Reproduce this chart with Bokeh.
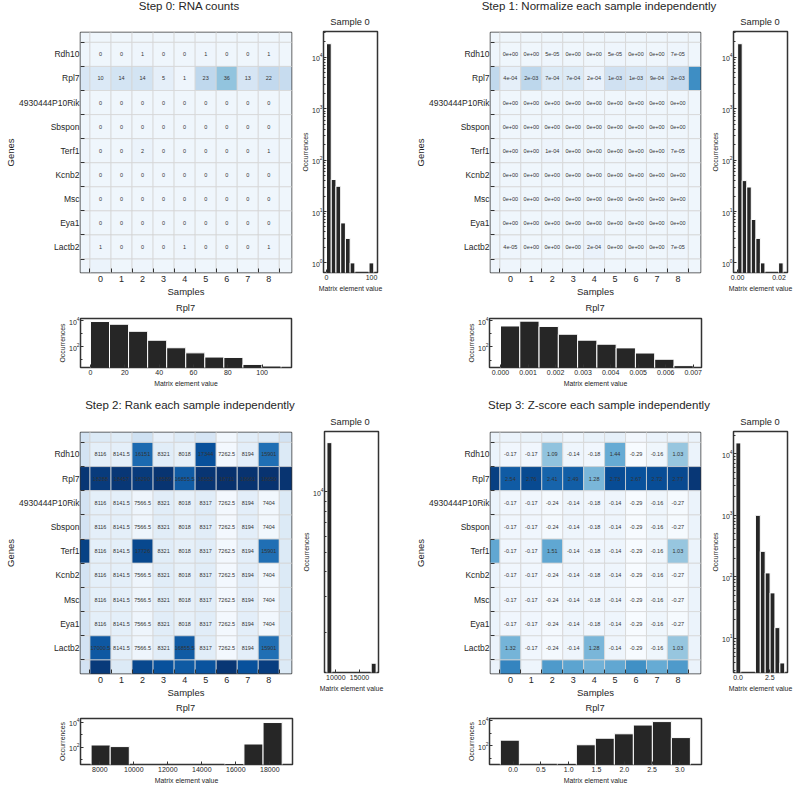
import numpy as np
from bokeh.plotting import figure
from bokeh.models import (ColumnDataSource, Range1d, FixedTicker, Div, Spacer,
                          LinearColorMapper, NumeralTickFormatter)
from bokeh.layouts import row, column
from bokeh.palettes import Blues256
from bokeh.embed import file_html
from bokeh.resources import INLINE
from bokeh.core.properties import value

# ---------------- data ----------------
genes = ["Rdh10", "Rpl7", "4930444P10Rik", "Sbspon", "Terf1", "Kcnb2", "Msc", "Eya1", "Lactb2"]
samples = list(range(9))

# Step 0: RNA counts (visible 9x9 block)
counts = [
    [0, 0, 1, 0, 0, 1, 0, 0, 1],
    [10, 14, 14, 5, 1, 23, 36, 13, 22],
    [0, 0, 0, 0, 0, 0, 0, 0, 0],
    [0, 0, 0, 0, 0, 0, 0, 0, 0],
    [0, 0, 2, 0, 0, 0, 0, 0, 1],
    [0, 0, 0, 0, 0, 0, 0, 0, 0],
    [0, 0, 0, 0, 0, 0, 0, 0, 0],
    [0, 0, 0, 0, 0, 0, 0, 0, 0],
    [1, 0, 0, 0, 1, 0, 0, 0, 1],
]
# partially visible neighbouring cells (row above / below: cols -1..9; col left / right: rows 0..8)
counts_top = [0, 0, 0, 0, 0, 0, 0, 0, 0, 0, 0]
counts_bottom = [1, 2, 0, 1, 0, 1, 0, 0, 0, 1, 0]
counts_left = [0, 12, 0, 0, 1, 0, 0, 0, 0]
counts_right = [0, 20, 0, 0, 0, 0, 0, 0, 0]

# Step 1: normalized
normed = [
    [0, 0, 5e-05, 0, 0, 5e-05, 0, 0, 7e-05],
    [4e-04, 1.8e-03, 7e-04, 7e-04, 2e-04, 1.2e-03, 1.0e-03, 9e-04, 1.6e-03],
    [0, 0, 0, 0, 0, 0, 0, 0, 0],
    [0, 0, 0, 0, 0, 0, 0, 0, 0],
    [0, 0, 1e-04, 0, 0, 0, 0, 0, 7e-05],
    [0, 0, 0, 0, 0, 0, 0, 0, 0],
    [0, 0, 0, 0, 0, 0, 0, 0, 0],
    [0, 0, 0, 0, 0, 0, 0, 0, 0],
    [4e-05, 0, 0, 0, 2e-04, 0, 0, 0, 7e-05],
]
normed_top = [0, 0, 0, 0, 0, 0, 0, 0, 0, 0, 0]
normed_bottom = [3e-05, 5e-05, 0, 2e-05, 0, 3e-05, 0, 0, 0, 3e-05, 0]
normed_left = [0, 1.7e-03, 0, 0, 0, 0, 0, 0, 0]
normed_right = [0, 4.5e-03, 0, 0, 0, 0, 0, 0, 0]

# Step 2: ranks
ranks = [
    [8116, 8141.5, 16151, 8321, 8018, 17344, 7262.5, 8194, 15901],
    [18288, 18457, 18290, 18589, 16855.5, 18552, 18711, 18661, 18650],
    [8116, 8141.5, 7566.5, 8321, 8018, 8317, 7262.5, 8194, 7404],
    [8116, 8141.5, 7566.5, 8321, 8018, 8317, 7262.5, 8194, 7404],
    [8116, 8141.5, 17726, 8321, 8018, 8317, 7262.5, 8194, 15901],
    [8116, 8141.5, 7566.5, 8321, 8018, 8317, 7262.5, 8194, 7404],
    [8116, 8141.5, 7566.5, 8321, 8018, 8317, 7262.5, 8194, 7404],
    [8116, 8141.5, 7566.5, 8321, 8018, 8317, 7262.5, 8194, 7404],
    [17000.5, 8141.5, 7566.5, 8321, 16855.5, 8317, 7262.5, 8194, 15901],
]
ranks_top = [9200, 8600, 8400, 9400, 8000, 8500, 9000, 7400, 8300, 8500, 9200]
ranks_bottom = [9200, 18300, 8600, 17700, 17300, 16900, 17200, 18500, 17300, 18200, 8600]
ranks_left = [9200, 18500, 9200, 9200, 18000, 9200, 9200, 9200, 9200]
ranks_right = [8600, 18600, 8600, 8600, 8600, 8600, 8600, 8600, 8600]

# Step 3: z-scores
zscores = [
    [-0.17, -0.17, 1.09, -0.14, -0.18, 1.44, -0.29, -0.16, 1.03],
    [2.54, 2.76, 2.41, 2.49, 1.28, 2.73, 2.67, 2.72, 2.77],
    [-0.17, -0.17, -0.24, -0.14, -0.18, -0.14, -0.29, -0.16, -0.27],
    [-0.17, -0.17, -0.24, -0.14, -0.18, -0.14, -0.29, -0.16, -0.27],
    [-0.17, -0.17, 1.51, -0.14, -0.18, -0.14, -0.29, -0.16, 1.03],
    [-0.17, -0.17, -0.24, -0.14, -0.18, -0.14, -0.29, -0.16, -0.27],
    [-0.17, -0.17, -0.24, -0.14, -0.18, -0.14, -0.29, -0.16, -0.27],
    [-0.17, -0.17, -0.24, -0.14, -0.18, -0.14, -0.29, -0.16, -0.27],
    [1.32, -0.17, -0.24, -0.14, 1.28, -0.14, -0.29, -0.16, 1.03],
]
z_top = [-0.1, -0.1, -0.05, 0.0, -0.15, -0.05, 0.0, -0.2, -0.1, -0.1, -0.1]
z_bottom = [-0.1, 2.0, -0.15, 1.7, 1.55, 1.35, 1.5, 1.85, 1.45, 1.7, -0.1]
z_left = [-0.1, 2.9, -0.1, -0.1, 1.5, -0.1, -0.1, -0.1, -0.1]
z_right = [-0.1, 3.0, -0.1, -0.1, -0.1, -0.1, -0.1, -0.1, -0.1]

# Histograms: (bin range low, high) and counts per bin
s0_counts_range = [0, 105]
s0_counts = [18500, 42, 31, 6, 3, 1, 0, 0, 0, 1]
s0_normed_range = [0, 0.022]
s0_normed = [18500, 40, 30, 7, 3, 1, 0, 0, 0, 1]
s0_ranks_range = [8116, 18516]
s0_ranks = [17600, 0, 0, 0, 0, 0, 0, 0, 0, 1400]
s0_z_range = [-0.17, 3.68]
s0_z = [15000, 0, 0, 0, 1000, 260, 116, 55, 15, 4]

rpl7_counts_range = [0, 111]
rpl7_counts = [9000, 5500, 1550, 310, 80, 32, 15, 14, 4, 3]
rpl7_normed_range = [0, 0.007]
rpl7_normed = [3700, 8500, 3400, 890, 320, 160, 85, 35, 12, 4]
rpl7_ranks_range = [7488, 18727]
rpl7_ranks = [150, 112, 0, 0, 0, 0, 0, 5, 180, 9500]
rpl7_z_range = [-0.23, 3.19]
rpl7_z = [280, 0, 0, 4, 120, 400, 900, 4500, 8500, 450]

titles = ["Step 0: RNA counts", "Step 1: Normalize each sample independently",
          "Step 2: Rank each sample independently", "Step 3: Z-score each sample independently"]

# ---------------- styling helpers ----------------
FONT = "Liberation Sans"
DARK = "#262626"
PALETTE = list(reversed(Blues256))


def tdiv(text, w, h, size):
    return Div(text=text, width=w, height=h, margin=0,
               styles={"font-family": FONT, "font-size": size, "color": DARK,
                       "text-align": "center", "line-height": f"{h}px",
                       "white-space": "nowrap", "overflow": "visible"})


def sp(w, h):
    return Spacer(width=w, height=h, margin=0)


def style_axis(ax, tick_size, label_size):
    ax.major_label_text_font = FONT
    ax.major_label_text_font_size = tick_size
    ax.major_label_text_color = DARK
    ax.axis_label_text_font = FONT
    ax.axis_label_text_font_size = label_size
    ax.axis_label_text_font_style = "normal"
    ax.axis_label_text_color = DARK
    ax.axis_line_color = None


def heatmap(core, top, bottom, left, right, fmt, low, high, w, h, bl, br, bt, bb):
    xs, ys, vs = [], [], []
    tx, ty, tt = [], [], []
    for r in range(-1, 10):
        for c in range(-1, 10):
            if r == -1:
                v = top[c + 1]
            elif r == 9:
                v = bottom[c + 1]
            elif c == -1:
                v = left[r]
            elif c == 9:
                v = right[r]
            else:
                v = core[r][c]
                tx.append(c); ty.append(r); tt.append(fmt(v))
            xs.append(c); ys.append(r); vs.append(v)
    p = figure(width=w, height=h,
               x_range=Range1d(-0.95, 9.08), y_range=Range1d(9.06, -0.91),
               output_backend="svg", toolbar_location=None,
               min_border_left=bl, min_border_right=br,
               min_border_top=bt, min_border_bottom=bb)
    mapper = LinearColorMapper(palette=PALETTE, low=low, high=high)
    src = ColumnDataSource(dict(x=xs, y=ys, v=vs))
    p.rect(x="x", y="y", width=1, height=1, source=src,
           fill_color={"field": "v", "transform": mapper},
           line_color="#d6d6d6", line_width=0.8)
    tsrc = ColumnDataSource(dict(x=tx, y=ty, t=tt))
    p.text(x="x", y="y", text="t", source=tsrc, text_align="center",
           text_baseline="middle", text_font_size="5.5px", text_color="#333333",
           text_font=value(FONT))
    p.xaxis.ticker = FixedTicker(ticks=samples, minor_ticks=[i - 0.5 for i in range(10)])
    p.yaxis.ticker = FixedTicker(ticks=list(range(len(genes))),
                                 minor_ticks=[i - 0.5 for i in range(10)])
    p.yaxis.major_label_overrides = {i: g for i, g in enumerate(genes)}
    for ax in (p.xaxis[0], p.yaxis[0]):
        style_axis(ax, "8.5px", "9.5px")
        ax.major_tick_in = 0
        ax.major_tick_out = 0
        ax.minor_tick_in = 4
        ax.minor_tick_out = 0
        ax.minor_tick_line_color = "#333333"
        ax.minor_tick_line_width = 1
        ax.major_label_standoff = 3
        ax.axis_label_standoff = 1
    p.xaxis.major_label_text_font_size = "9px"
    p.yaxis.major_label_standoff = 1
    p.yaxis.axis_label_standoff = 0
    p.xaxis.axis_label = "Samples"
    p.yaxis.axis_label = "Genes"
    p.xgrid.visible = False
    p.ygrid.visible = False
    p.outline_line_color = "#333333"
    p.outline_line_width = 1.5
    return p


def hist(rng, cnts, xr, yr, xticks, xfmt, yticks, yminor, w, h, bl, br, bt, bb):
    edges = np.linspace(rng[0], rng[1], len(cnts) + 1)
    keep = [i for i, c in enumerate(cnts) if c > 0]
    src = ColumnDataSource(dict(left=[edges[i] for i in keep],
                                right=[edges[i + 1] for i in keep],
                                top=[cnts[i] for i in keep]))
    p = figure(width=w, height=h, y_axis_type="log",
               x_range=Range1d(*xr), y_range=Range1d(*yr),
               output_backend="svg", toolbar_location=None,
               min_border_left=bl, min_border_right=br,
               min_border_top=bt, min_border_bottom=bb)
    p.quad(left="left", right="right", top="top", bottom=yr[0] * 0.01, source=src,
           fill_color="#262626", line_color="white", line_width=1)
    p.xaxis.ticker = FixedTicker(ticks=xticks)
    p.xaxis.formatter = NumeralTickFormatter(format=xfmt)
    p.yaxis.ticker = FixedTicker(ticks=yticks, minor_ticks=yminor)
    for ax in (p.xaxis[0], p.yaxis[0]):
        style_axis(ax, "7px", "6.9px")
        ax.major_tick_in = 3
        ax.major_tick_out = 0
        ax.minor_tick_in = 2
        ax.minor_tick_out = 0
        ax.major_tick_line_color = "#333333"
        ax.minor_tick_line_color = "#333333"
        ax.major_label_standoff = 2
        ax.axis_label_standoff = 2
    p.yaxis.major_label_standoff = 1
    p.yaxis.axis_label_standoff = 0
    p.xaxis.axis_label = "Matrix element value"
    p.yaxis.axis_label = "Occurrences"
    p.xgrid.visible = False
    p.ygrid.visible = False
    p.outline_line_color = "#333333"
    p.outline_line_width = 1.5
    return p


decades = [1, 10, 100, 1000, 10000]
minor_all = [m * d for d in [1, 10, 100, 1000, 10000] for m in range(2, 10)]

fmt_int = lambda v: f"{int(v)}"
fmt_e = lambda v: f"{v:.0e}"
fmt_g = lambda v: f"{v:g}"
fmt_2f = lambda v: f"{v:.2f}"

# ---------------- Row A (y 0-300) ----------------
a1 = heatmap(counts, counts_top, counts_bottom, counts_left, counts_right,
             fmt_int, -4, 95, 295, 288, 80, 4, 20, 28)
a2 = hist(s0_counts_range, s0_counts, (-6.7, 113.3), (0.65, 32000),
          [0, 100], "0", decades, minor_all, 105, 270, 28, 23, 1, 28)
a3 = heatmap(normed, normed_top, normed_bottom, normed_left, normed_right,
             fmt_e, -0.0003, 0.0072, 304, 288, 90, 4, 20, 28)
a4 = hist(s0_normed_range, s0_normed, (-0.002, 0.0241), (0.65, 32000),
          [0, 0.02], "0.00", decades, minor_all, 90, 270, 29, 7, 1, 28)
rowA = column(
    row(tdiv(titles[0], 378, 12, "11.5px"), sp(26, 12), tdiv(titles[1], 390, 12, "11.5px")),
    row(a1,
        column(sp(105, 3), row(sp(5, 15), tdiv("Sample 0", 100, 15, "9.3px")), a2),
        a3,
        column(sp(90, 3), row(sp(22, 15), tdiv("Sample 0", 68, 15, "9.3px")), a4)))

# ---------------- Row B (y 300-391) ----------------
b1 = hist(rpl7_counts_range, rpl7_counts, (-5.8, 117.1), (2.3, 15500),
          [0, 20, 40, 60, 80, 100], "0", [100, 10000], [10, 1000], 400, 75, 80, 109, 2, 24)
b2 = hist(rpl7_normed_range, rpl7_normed, (-0.0004, 0.0073), (2.9, 13400),
          [0, 0.001, 0.002, 0.003, 0.004, 0.005, 0.006, 0.007], "0.000",
          [100, 10000], [10, 1000], 394, 75, 89, 93, 2, 24)
rowB = row(column(row(tdiv("Rpl7", 371, 16, "9.3px"), sp(29, 16)), b1),
           column(row(tdiv("Rpl7", 390, 16, "9.3px"), sp(4, 16)), b2))

# ---------------- Row C (y 391-700) ----------------
c1 = heatmap(ranks, ranks_top, ranks_bottom, ranks_left, ranks_right,
             fmt_g, 7000, 18800, 295, 286, 80, 4, 18, 27)
c2 = hist(s0_ranks_range, s0_ranks, (7600, 19020), (1259, 20000),
          [10000, 15000], "0", [10000], [2000, 3000, 4000, 5000, 6000, 7000, 8000, 9000, 20000],
          105, 270, 29, 22, 1, 28)
c3 = heatmap(zscores, z_top, z_bottom, z_left, z_right,
             fmt_2f, -0.3, 3.1, 304, 286, 90, 4, 18, 27)
c4 = hist(s0_z_range, s0_z, (-0.36, 3.9), (2.8, 23000),
          [0, 2.5], "0.0", [10, 100, 1000, 10000], minor_all, 90, 270, 29, 7, 1, 28)
rowC = column(
    sp(794, 5),
    row(tdiv(titles[2], 380, 18, "11.5px"), sp(24, 18), tdiv(titles[3], 390, 18, "11.5px")),
    row(c1,
        column(row(sp(5, 16), tdiv("Sample 0", 100, 16, "9.3px")), c2),
        c3,
        column(row(sp(22, 16), tdiv("Sample 0", 68, 16, "9.3px")), c4)))

# ---------------- Row D (y 700-786) ----------------
d1 = hist(rpl7_ranks_range, rpl7_ranks, (6865, 19335), (4.1, 20000),
          [8000, 10000, 12000, 14000, 16000, 18000], "0", [100, 10000], [10, 1000],
          400, 70, 80, 108, 2, 19)
d2 = hist(rpl7_z_range, rpl7_z, (-0.425, 3.39), (3.2, 15000),
          [0, 0.5, 1.0, 1.5, 2.0, 2.5, 3.0], "0.0", [100, 10000], [10, 1000],
          394, 70, 89, 93, 2, 19)
rowD = row(column(row(tdiv("Rpl7", 371, 16, "9.3px"), sp(29, 16)), d1),
           column(row(tdiv("Rpl7", 390, 16, "9.3px"), sp(4, 16)), d2))

layout = column(rowA, rowB, rowC, rowD)

open("out.html", "w").write(file_html(layout, INLINE))
